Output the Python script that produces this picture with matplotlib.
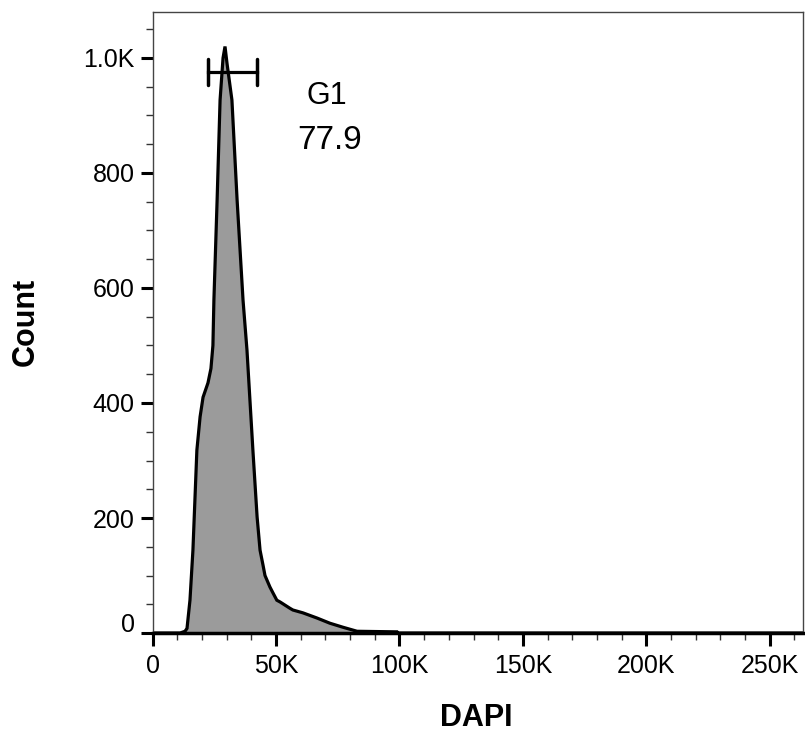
import matplotlib
matplotlib.use("Agg")
import matplotlib.pyplot as plt
from matplotlib.ticker import MultipleLocator, FixedLocator

plt.rcParams['font.family'] = ['Liberation Sans', 'DejaVu Sans']

# DAPI intensity (K units) and counts
dapi_k = [0, 11.1, 13.1, 13.9, 15.1, 16.3, 17.9, 19.2, 20.4, 22.4, 23.6, 24.4,
          24.8, 26.1, 27.3, 28.5, 29.3, 30.1, 32.1, 34.2, 36.6, 38.2, 40.6,
          42.3, 43.5, 44.7, 45.5, 47.5, 48.7, 50.3, 51.6, 55.6, 56.8, 60.9,
          66.6, 71.8, 77.1, 82.8, 99.0, 99.3, 263.5]
counts = [0, 0, 3, 8, 57, 144, 318, 376, 410, 435, 460, 500,
          579, 753, 927, 1000, 1020, 991, 927, 753, 579, 492, 318,
          202, 144, 118, 100, 80, 70, 57, 54, 43, 40, 35,
          26, 17, 10, 3, 2, 0, 0]

gate_name = "G1"
gate_pct = "77.9"
gate_lo_k, gate_hi_k = 22.4, 42.3
gate_level = 976

x_ticks_k = [0, 50, 100, 150, 200, 250]
x_tick_labels = ["0", "50K", "100K", "150K", "200K", "250K"]
y_ticks = [0, 200, 400, 600, 800, 1000]
y_tick_labels = ["", "200", "400", "600", "800", "1.0K"]

fig = plt.figure(figsize=(8.05, 7.36), dpi=100)
ax = fig.add_axes([152.7/805, 1-633/736, (803-152.7)/805, (633-12)/736])

x = [v*1000 for v in dapi_k]
ax.fill_between(x, counts, 0, color='#9b9b9b', lw=0)
ax.plot(x, counts, color='black', lw=2.3, solid_joinstyle='miter')

ax.set_xlim(0, 263500)
ax.set_ylim(0, 1080)

# gate bracket
glo, ghi = gate_lo_k*1000, gate_hi_k*1000
ax.plot([glo, ghi], [gate_level, gate_level], color='black', lw=2.3)
ax.plot([glo, glo], [gate_level-23, gate_level+22], color='black', lw=2.5, solid_capstyle='round')
ax.plot([ghi, ghi], [gate_level-23, gate_level+22], color='black', lw=2.5, solid_capstyle='round')
ax.text(70600, 934, gate_name, ha='center', va='center', fontsize=22)
ax.text(71800, 856, gate_pct, ha='center', va='center', fontsize=24)

ax.xaxis.set_major_locator(FixedLocator([v*1000 for v in x_ticks_k]))
ax.set_xticklabels(x_tick_labels)
ax.xaxis.set_minor_locator(MultipleLocator(10000))
ax.yaxis.set_major_locator(FixedLocator(y_ticks))
ax.set_yticklabels(y_tick_labels)
ax.yaxis.set_minor_locator(MultipleLocator(50))

ax.tick_params(which='major', direction='out', length=9, width=2.2, labelsize=18, color='black')
ax.tick_params(which='minor', direction='out', length=5, width=1.0, color='#333333')
ax.tick_params(axis='x', which='major', pad=6)
ax.tick_params(axis='y', which='major', pad=4)

for s in ['top', 'right', 'left']:
    ax.spines[s].set_linewidth(1.0)
    ax.spines[s].set_color('#444444')
ax.spines['bottom'].set_linewidth(2.5)
ax.spines['bottom'].set_color('black')

# y "0" label slightly raised as in FlowJo
ax.annotate("0", xy=(0, 0), xycoords=('axes fraction', 'data'),
            xytext=(-13, 6), textcoords='offset points', ha='right', va='center', fontsize=18)

fig.text(476/805, 1-726/736, "DAPI", ha='center', va='baseline', fontsize=22, fontweight='bold')
fig.text(26/805, 1-322/736, "Count", ha='center', va='center', fontsize=22, fontweight='bold', rotation=90)

fig.savefig("out.png", dpi=100)
